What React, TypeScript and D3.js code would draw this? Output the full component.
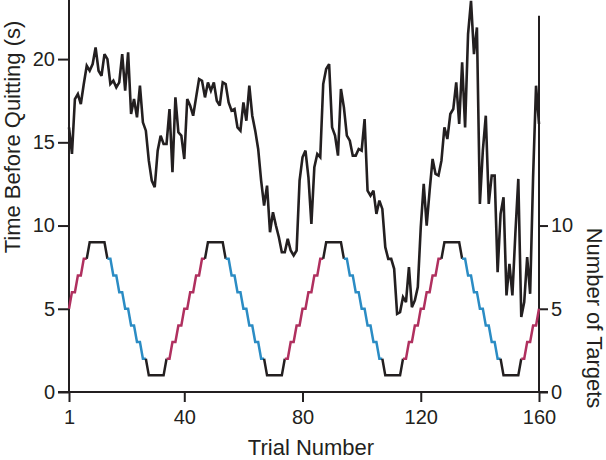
import React, { useEffect, useRef } from "react";
import * as d3 from "d3";

// time before quitting (s), one value per trial 1..160
const timeBeforeQuitting = [
  15.9, 14.3, 17.6, 17.9, 17.3, 18.5, 19.6, 19.3, 19.7, 20.7,
  19.3, 19.0, 20.3, 20.0, 18.5, 18.7, 18.3, 18.6, 20.3, 18.1,
  20.4, 16.7, 17.6, 16.5, 18.4, 16.2, 15.7, 13.9, 12.7, 12.3,
  14.5, 15.4, 14.9, 14.9, 17.0, 13.2, 17.7, 15.6, 15.4, 14.0,
  17.6, 17.2, 16.6, 17.7, 18.8, 18.7, 17.7, 18.6, 18.1, 18.6,
  17.5, 17.2, 18.6, 18.5, 17.4, 16.9, 17.0, 15.9, 15.7, 17.4,
  16.3, 18.4, 16.6, 15.7, 14.6, 12.7, 11.2, 12.4, 9.6, 10.8,
  10.0, 9.3, 8.4, 8.4, 9.2, 8.5, 8.2, 8.5, 12.7, 14.1,
  14.5, 12.9, 10.1, 13.5, 14.3, 14.1, 18.5, 19.4, 19.7, 15.9,
  15.4, 14.2, 18.2, 17.1, 15.4, 15.1, 14.2, 14.2, 14.6, 14.5,
  16.4, 12.1, 11.8, 12.1, 10.7, 11.5, 11.0, 8.7, 8.0, 8.0,
  7.4, 4.7, 4.8, 5.7, 5.4, 7.5, 5.1, 5.5, 6.3, 9.9,
  12.5, 10.0, 12.1, 14.0, 13.1, 13.0, 13.9, 15.9, 15.2, 16.7,
  17.0, 18.6, 16.1, 19.8, 15.9, 21.5, 23.5, 20.3, 21.9, 11.3,
  14.5, 16.6, 11.3, 13.0, 13.0, 7.2, 10.7, 11.7, 5.8, 7.7,
  5.8, 9.5, 12.8, 4.5, 5.4, 8.1, 5.9, 12.9, 18.4, 16.1,
];

// number of targets, one value per trial 1..160
const numberOfTargets = [
  5, 6, 6, 7, 7, 8, 8, 9, 9, 9, 9, 9, 9, 8, 8, 7, 7, 6, 6, 5,
  5, 4, 4, 3, 3, 2, 2, 1, 1, 1, 1, 1, 1, 2, 2, 3, 3, 4, 4, 5,
  5, 6, 6, 7, 7, 8, 8, 9, 9, 9, 9, 9, 9, 8, 8, 7, 7, 6, 6, 5,
  5, 4, 4, 3, 3, 2, 2, 1, 1, 1, 1, 1, 1, 2, 2, 3, 3, 4, 4, 5,
  5, 6, 6, 7, 7, 8, 8, 9, 9, 9, 9, 9, 9, 8, 8, 7, 7, 6, 6, 5,
  5, 4, 4, 3, 3, 2, 2, 1, 1, 1, 1, 1, 1, 2, 2, 3, 3, 4, 4, 5,
  5, 6, 6, 7, 7, 8, 8, 9, 9, 9, 9, 9, 9, 8, 8, 7, 7, 6, 6, 5,
  5, 4, 4, 3, 3, 2, 2, 1, 1, 1, 1, 1, 1, 2, 2, 3, 3, 4, 4, 5,
];

const trials = d3.range(1, 161);
const xTicks = [1, 40, 80, 120, 160];
const leftTicks = [0, 5, 10, 15, 20];
const rightTicks = [0, 5, 10];

const FONT = "'Liberation Sans', Arial, Helvetica, sans-serif";
const INK = "#231f20";
const RISING = "#b0305f";
const FALLING = "#2b8cc4";

export default function App() {
  const ref = useRef<SVGSVGElement | null>(null);

  useEffect(() => {
    const svg = d3.select(ref.current);
    svg.selectAll("*").remove();

    const x = d3.scaleLinear().domain([1, 160]).range([69, 539]);
    const y = d3.scaleLinear().domain([0, 23.55]).range([392, 0]);

    // axes
    const left = svg.append("g").attr("transform", `translate(${x(1)},0)`)
      .call(d3.axisLeft(y).tickValues(leftTicks).tickSize(11).tickPadding(3));
    const right = svg.append("g").attr("transform", `translate(${x(160)},0)`)
      .call(d3.axisRight(y).tickValues(rightTicks).tickSize(9).tickPadding(3));
    const bottom = svg.append("g").attr("transform", `translate(0,${y(0)})`)
      .call(d3.axisBottom(x).tickValues(xTicks).tickFormat(d3.format("d")).tickSize(10).tickPadding(8));

    [left, right, bottom].forEach(g => {
      g.attr("font-size", 20).attr("font-family", FONT).attr("color", INK);
      g.select(".domain").remove();
      g.selectAll("line").attr("stroke-width", 2);
    });

    // axis spines
    svg.append("line").attr("x1", x(1)).attr("x2", x(1)).attr("y1", 0).attr("y2", y(0) + 1)
      .attr("stroke", INK).attr("stroke-width", 2);
    svg.append("line").attr("x1", x(160)).attr("x2", x(160)).attr("y1", y(22.6)).attr("y2", y(0) + 1)
      .attr("stroke", INK).attr("stroke-width", 2);
    svg.append("line").attr("x1", x(1) - 11).attr("x2", x(160) + 9).attr("y1", y(0)).attr("y2", y(0))
      .attr("stroke", INK).attr("stroke-width", 2);

    // staircase of targets, split into coloured runs
    const colorOf = (i: number) => {
      const a = numberOfTargets[i], b = numberOfTargets[i + 1];
      if (a === 9 || b === 9 || a === 1 || b === 1) return INK;
      let k = i;
      while (k >= 0 && numberOfTargets[k + 1] === numberOfTargets[k]) k--;
      const dir = k >= 0 ? numberOfTargets[k + 1] - numberOfTargets[k] : 1;
      return dir > 0 ? RISING : FALLING;
    };
    const runs: { color: string; idx: number[] }[] = [];
    for (let i = 0; i < trials.length - 1; i++) {
      const c = colorOf(i);
      const last = runs[runs.length - 1];
      if (last && last.color === c) last.idx.push(i + 1);
      else runs.push({ color: c, idx: [i, i + 1] });
    }
    const stepLine = d3.line<number>().x(i => x(trials[i])).y(i => y(numberOfTargets[i]));
    svg.append("g").selectAll("path").data(runs).join("path")
      .attr("d", r => stepLine(r.idx))
      .attr("fill", "none").attr("stroke", r => r.color)
      .attr("stroke-width", 2.5);

    // time before quitting
    const timeLine = d3.line<number>().x((d, i) => x(trials[i])).y(d => y(d));
    svg.append("path").attr("d", timeLine(timeBeforeQuitting))
      .attr("fill", "none").attr("stroke", INK).attr("stroke-width", 2.6)
      .attr("stroke-linejoin", "miter").attr("stroke-miterlimit", 3);

    // titles
    svg.append("text").attr("transform", "translate(20,137) rotate(-90)")
      .attr("text-anchor", "middle").attr("font-size", 22).attr("font-family", FONT)
      .attr("fill", INK).text("Time Before Quitting (s)");
    svg.append("text").attr("transform", "translate(587,318) rotate(90)")
      .attr("text-anchor", "middle").attr("font-size", 22).attr("font-family", FONT)
      .attr("fill", INK).text("Number of Targets");
    svg.append("text").attr("x", 311).attr("y", 455)
      .attr("text-anchor", "middle").attr("font-size", 22).attr("font-family", FONT)
      .attr("fill", INK).text("Trial Number");
  }, []);

  return (
    <svg ref={ref} width={606} height={460}
      style={{ position: "absolute", left: 0, top: 0, background: "#fff" }} />
  );
}
